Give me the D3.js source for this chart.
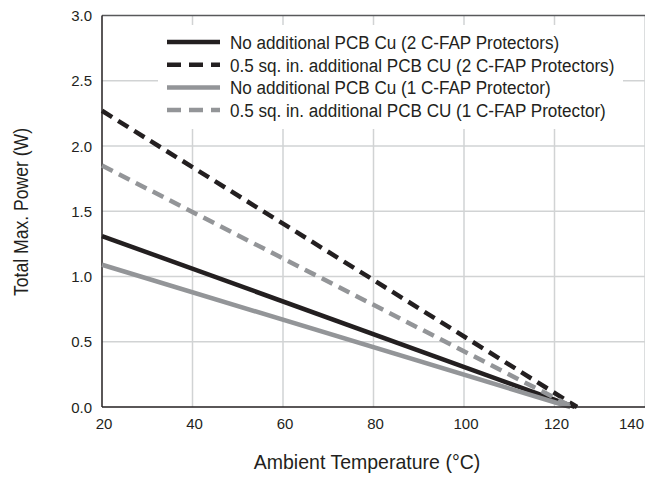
<head><script src="https://d3js.org/d3.v7.min.js"></script></head>
<body style="margin:0;background:#fff">
<svg id="chart" width="645" height="477"></svg>
<script>
// series: [temperature, power] endpoints
var names = [
  "No additional PCB Cu (2 C-FAP Protectors)",
  "0.5 sq. in. additional PCB CU (2 C-FAP Protectors)",
  "No additional PCB Cu (1 C-FAP Protector)",
  "0.5 sq. in. additional PCB CU (1 C-FAP Protector)"
];
var solid2 = [[20, 1.31], [124.5, 0]];
var dashed2 = [[20, 2.27], [125, 0]];
var solid1 = [[20, 1.09], [123.5, 0]];
var dashed1 = [[20, 1.85], [124, 0]];
var xTicks = [20, 40, 60, 80, 100, 120, 140];
var yTicks = [0, 0.5, 1.0, 1.5, 2.0, 2.5, 3.0];

var series = [
  {name: names[0], data: solid2, color: "#231f20", dash: null},
  {name: names[1], data: dashed2, color: "#231f20", dash: "12,7"},
  {name: names[2], data: solid1, color: "#939598", dash: null},
  {name: names[3], data: dashed1, color: "#939598", dash: "12,7"}
];

var svg = d3.select("#chart");
var font = "'Liberation Sans', Arial, sans-serif";

var x = d3.scaleLinear().domain([20, 140]).range([102, 645]);
var y = d3.scaleLinear().domain([0, 3]).range([407, 15.5]);

// grid
svg.append("g").selectAll("line").data(xTicks.slice(1)).join("line")
  .attr("x1", d => x(d)).attr("x2", d => x(d)).attr("y1", y(3)).attr("y2", y(0))
  .attr("stroke", "#d1d3d4").attr("stroke-width", 1.5);
svg.append("g").selectAll("line").data(yTicks.slice(1, -1)).join("line")
  .attr("x1", x(20)).attr("x2", x(140)).attr("y1", d => y(d)).attr("y2", d => y(d))
  .attr("stroke", "#d1d3d4").attr("stroke-width", 1.5);

// legend background covers grid
svg.append("rect").attr("x", 158).attr("y", 25).attr("width", 465).attr("height", 104).attr("fill", "#fff");

// frame
svg.append("line").attr("x1", x(20)).attr("x2", x(140)).attr("y1", y(3)).attr("y2", y(3))
  .attr("stroke", "#58595b").attr("stroke-width", 1.5);
svg.append("line").attr("x1", x(20)).attr("x2", x(20)).attr("y1", y(3)).attr("y2", y(0))
  .attr("stroke", "#231f20").attr("stroke-width", 1.5);

// lines
var line = d3.line().x(d => x(d[0])).y(d => y(d[1]));
svg.append("g").selectAll("path").data(series).join("path")
  .attr("d", d => line(d.data))
  .attr("fill", "none")
  .attr("stroke", d => d.color)
  .attr("stroke-width", 4.5)
  .attr("stroke-dasharray", d => d.dash);

svg.append("line").attr("x1", x(20)).attr("x2", x(140)).attr("y1", y(0)).attr("y2", y(0))
  .attr("stroke", "#231f20").attr("stroke-width", 1.5);

// tick labels
svg.append("g").selectAll("text").data(xTicks).join("text")
  .attr("x", d => d === 140 ? 644 : x(d) + 2).attr("y", 429)
  .attr("text-anchor", d => d === 140 ? "end" : "middle")
  .style("font-family", font).style("font-size", "15px").attr("fill", "#231f20")
  .text(d => d);
svg.append("g").selectAll("text").data(yTicks).join("text")
  .attr("x", 92).attr("y", d => y(d) + 5.5)
  .attr("text-anchor", "end")
  .style("font-family", font).style("font-size", "15px").attr("fill", "#231f20")
  .text(d => d3.format(".1f")(d));

// axis titles (condensed look via horizontal scale)
svg.append("text").attr("transform", "translate(367,469) scale(0.93,1)").attr("text-anchor", "middle")
  .style("font-family", font).style("font-size", "21px").attr("fill", "#231f20")
  .text("Ambient Temperature (°C)");
svg.append("text").attr("transform", "translate(28,212) rotate(-90) scale(0.88,1)").attr("text-anchor", "middle")
  .style("font-family", font).style("font-size", "20px").attr("fill", "#231f20")
  .text("Total Max. Power (W)");

// legend
var lg = svg.append("g").selectAll("g").data(series).join("g")
  .attr("transform", (d, i) => "translate(167," + (42 + i * 22.7) + ")");
lg.append("line").attr("x1", 0).attr("x2", 53).attr("y1", 0).attr("y2", 0)
  .attr("stroke", d => d.color).attr("stroke-width", 4.5)
  .attr("stroke-dasharray", d => d.dash ? "14,8" : null);
lg.append("text").attr("transform", "translate(63,7) scale(0.9,1)")
  .style("font-family", font).style("font-size", "19px").attr("fill", "#231f20")
  .text(d => d.name);
</script>
</body>
